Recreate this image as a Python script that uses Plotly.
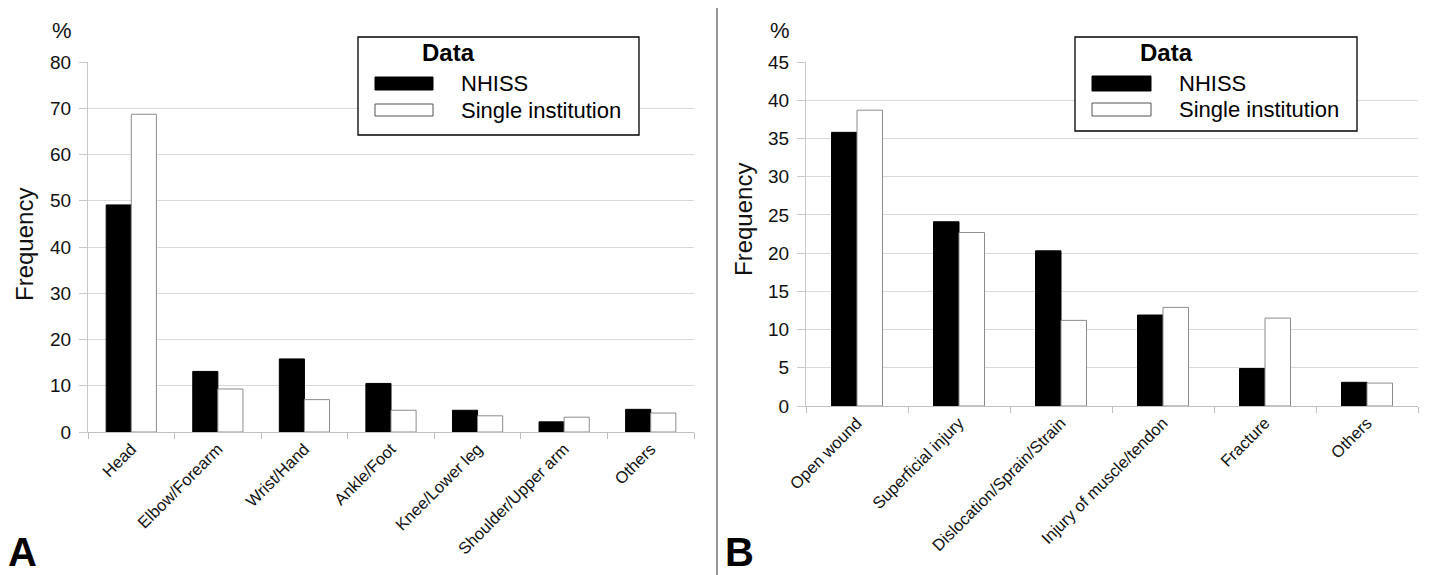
import plotly.graph_objects as go

W, H = 1429, 575

# ---- Data ----
cats_a = ["Head", "Elbow/Forearm", "Wrist/Hand", "Ankle/Foot", "Knee/Lower leg",
          "Shoulder/Upper arm", "Others"]
nhiss_a = [49.1, 13.1, 15.8, 10.5, 4.7, 2.2, 4.9]
single_a = [68.7, 9.3, 7.0, 4.7, 3.5, 3.2, 4.1]

cats_b = ["Open wound", "Superficial injury", "Dislocation/Sprain/Strain",
          "Injury of muscle/tendon", "Fracture", "Others"]
nhiss_b = [35.8, 24.1, 20.3, 11.9, 4.9, 3.1]
single_b = [38.7, 22.7, 11.2, 12.9, 11.5, 3.0]

series_names = ["NHISS", "Single institution"]
yticks_a = [0, 10, 20, 30, 40, 50, 60, 70, 80]
yticks_b = [0, 5, 10, 15, 20, 25, 30, 35, 40, 45]

FONT = "Liberation Sans, Arial, sans-serif"


def px(x):
    return x / W


def py(y):
    return 1 - y / H


fig = go.Figure()

bw_a = 0.29
bw_b = 0.25
fig.add_trace(go.Bar(x=cats_a, y=nhiss_a, name=series_names[0], xaxis="x", yaxis="y",
                     marker=dict(color="black", line=dict(color="black", width=1)),
                     width=bw_a, offset=-bw_a, showlegend=False))
fig.add_trace(go.Bar(x=cats_a, y=single_a, name=series_names[1], xaxis="x", yaxis="y",
                     marker=dict(color="white", line=dict(color="#8c8c8c", width=1)),
                     width=bw_a, offset=0, showlegend=False))
fig.add_trace(go.Bar(x=cats_b, y=nhiss_b, name=series_names[0], xaxis="x2", yaxis="y2",
                     marker=dict(color="black", line=dict(color="black", width=1)),
                     width=bw_b, offset=-bw_b, showlegend=False))
fig.add_trace(go.Bar(x=cats_b, y=single_b, name=series_names[1], xaxis="x2", yaxis="y2",
                     marker=dict(color="white", line=dict(color="#8c8c8c", width=1)),
                     width=bw_b, offset=0, showlegend=False))

xcommon = dict(showline=True, linecolor="#bfbfbf", linewidth=1, ticks="outside",
               tickson="boundaries", ticklen=6, tickcolor="#bfbfbf", tickangle=-45,
               tickfont=dict(family=FONT, size=16.5, color="#111"), showgrid=False,
               automargin=False, fixedrange=True)
ycommon = dict(showline=True, linecolor="#c8c8c8", linewidth=1, ticks="outside",
               ticklen=8, tickcolor="#c8c8c8", showgrid=True, gridcolor="#d9d9d9",
               gridwidth=1, tickfont=dict(family=FONT, size=19, color="#111"),
               zeroline=False, ticklabelstandoff=4, automargin=False, fixedrange=True)

fig.update_layout(
    width=W, height=H,
    autosize=False,
    margin=dict(l=0, r=0, t=0, b=0, pad=0),
    paper_bgcolor="white", plot_bgcolor="white",
    barmode="overlay",
    font=dict(family=FONT, color="#111"),
    xaxis=dict(domain=[px(88), px(694)], anchor="y", **xcommon),
    yaxis=dict(domain=[py(432), py(62)], anchor="x", range=[0, 80],
               tickvals=yticks_a, **ycommon),
    xaxis2=dict(domain=[px(806), px(1418)], anchor="y2", **xcommon),
    yaxis2=dict(domain=[py(406), py(62)], anchor="x2", range=[0, 45],
                tickvals=yticks_b, **ycommon),
)

shapes = []
annotations = []

# divider line
shapes.append(dict(type="line", xref="paper", yref="paper", x0=px(717), x1=px(717),
                   y0=py(8), y1=0, line=dict(color="#777777", width=1.5)))

# manual legends
legends = [
    dict(box=(358, 37, 639, 135), title_x=448, sw=(375, 433), blk=(77, 90), wht=(104, 116), tx=459),
    dict(box=(1075, 37, 1357, 131), title_x=1166, sw=(1092, 1151), blk=(76, 91), wht=(103, 116), tx=1177),
]
for lg in legends:
    x0, y0, x1, y1 = lg["box"]
    shapes.append(dict(type="rect", xref="paper", yref="paper", x0=px(x0), x1=px(x1),
                       y0=py(y1), y1=py(y0), line=dict(color="black", width=1.3),
                       fillcolor="white", layer="above"))
    sx0, sx1 = lg["sw"]
    shapes.append(dict(type="rect", xref="paper", yref="paper", x0=px(sx0), x1=px(sx1),
                       y0=py(lg["blk"][1]), y1=py(lg["blk"][0]),
                       line=dict(color="black", width=1), fillcolor="black", layer="above"))
    shapes.append(dict(type="rect", xref="paper", yref="paper", x0=px(sx0), x1=px(sx1),
                       y0=py(lg["wht"][1]), y1=py(lg["wht"][0]),
                       line=dict(color="#555555", width=1), fillcolor="white", layer="above"))
    annotations.append(dict(text="<b>Data</b>", xref="paper", yref="paper",
                            x=px(lg["title_x"]), y=py(53), xanchor="center", yanchor="middle",
                            showarrow=False, font=dict(family=FONT, size=24, color="black")))
    annotations.append(dict(text=series_names[0], xref="paper", yref="paper",
                            x=px(lg["tx"]), y=py((lg["blk"][0] + lg["blk"][1]) / 2),
                            xanchor="left", yanchor="middle", showarrow=False,
                            font=dict(family=FONT, size=22, color="black")))
    annotations.append(dict(text=series_names[1], xref="paper", yref="paper",
                            x=px(lg["tx"]), y=py((lg["wht"][0] + lg["wht"][1]) / 2),
                            xanchor="left", yanchor="middle", showarrow=False,
                            font=dict(family=FONT, size=22, color="black")))

# axis titles / units / panel letters
for xc, yc in [(24, 245), (743, 220)]:
    annotations.append(dict(text="Frequency", xref="paper", yref="paper", x=px(xc), y=py(yc),
                            xanchor="center", yanchor="middle", textangle=-90, showarrow=False,
                            font=dict(family=FONT, size=24, color="#111")))
for xc in [62, 780]:
    annotations.append(dict(text="%", xref="paper", yref="paper", x=px(xc), y=py(30),
                            xanchor="center", yanchor="middle", showarrow=False,
                            font=dict(family=FONT, size=22, color="#111")))
for txt, xc in [("A", 22), ("B", 740)]:
    annotations.append(dict(text="<b>%s</b>" % txt, xref="paper", yref="paper", x=px(xc),
                            y=py(552), xanchor="center", yanchor="middle", showarrow=False,
                            font=dict(family=FONT, size=40, color="black")))

fig.update_layout(shapes=shapes, annotations=annotations)

fig.write_html("out.html")
